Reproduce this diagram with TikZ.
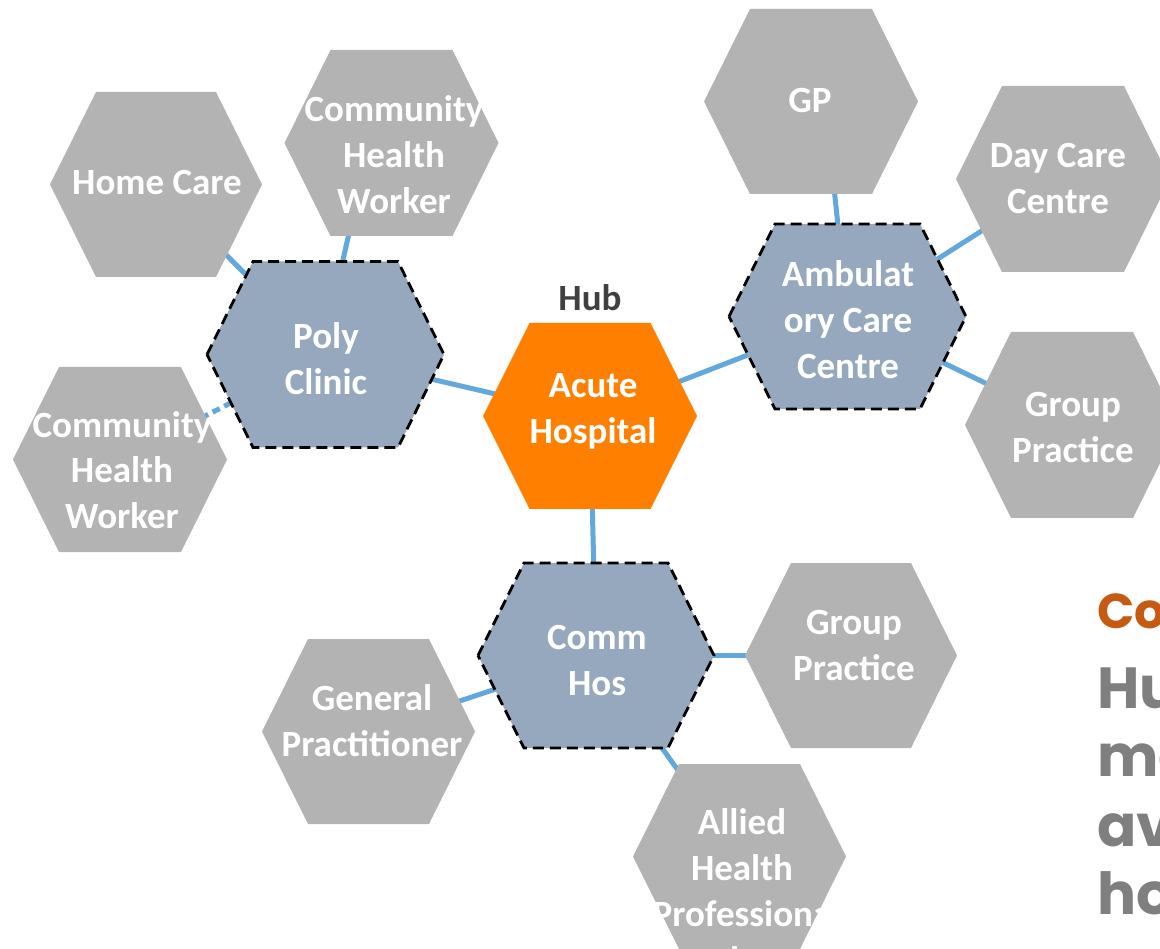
\documentclass[tikz,border=0pt]{standalone}
\usepackage{fontspec}
\setmainfont{Carlito}
\newfontfamily\popfont{Poppins}
\usetikzlibrary{calc}
\definecolor{hexgrey}{RGB}{179,179,179}
\definecolor{hexblue}{RGB}{149,168,190}
\definecolor{hexorange}{RGB}{255,127,0}
\definecolor{connblue}{RGB}{98,168,220}
\definecolor{hubgrey}{RGB}{64,64,64}
\definecolor{titleorange}{RGB}{197,90,17}
\definecolor{bodygrey}{RGB}{127,127,127}
\newcommand{\drawhex}[5]{% style, centre, half width, half height, inset
  \path[#1] ($(#2)+(-#3,0)$) -- ($(#2)+(-#3+#5,-#4)$) -- ($(#2)+(#3-#5,-#4)$)
    -- ($(#2)+(#3,0)$) -- ($(#2)+(#3-#5,#4)$) -- ($(#2)+(-#3+#5,#4)$) -- cycle;}
\begin{document}
\begin{tikzpicture}[x=1pt,y=-1pt,
  conn/.style={draw=connblue,line width=5pt},
  greyhex/.style={fill=hexgrey},
  bluehex/.style={fill=hexblue,draw=black,line width=2.8pt,dash pattern=on 11pt off 6pt},
  orangehex/.style={fill=hexorange},
  lbl/.style={text=white,font=\bfseries\fontsize{37}{46}\selectfont,align=center,inner sep=0pt,anchor=base},
  side/.style={inner sep=0pt,anchor=base west}]
\useasboundingbox (0,0) rectangle (1160,949);
\clip (0,0) rectangle (1160,949);
% centres
\coordinate (home) at (156,184.5);
\coordinate (chwT) at (391.5,143);
\coordinate (chwL) at (120,459.5);
\coordinate (poly) at (325.5,354.5);
\coordinate (acute) at (590,416);
\coordinate (gp) at (811,101.5);
\coordinate (day) at (1063,179);
\coordinate (amb) at (847.5,316.5);
\coordinate (grpR) at (1072,425);
\coordinate (comm) at (596,655.5);
\coordinate (grpB) at (851,655.5);
\coordinate (gen) at (368.5,731.5);
\coordinate (allied) at (739.5,856.5);
% connectors
\draw[conn] (home) -- (poly);
\draw[conn] ($(chwT)+(-22,0)$) -- ($(poly)+(-4,0)$);
\draw[conn,dash pattern=on 8pt off 5pt] (chwL) -- (poly);
\draw[conn] (poly) -- (acute);
\draw[conn] (acute) -- (amb);
\draw[conn] ($(gp)+(14,0)$) -- (amb);
\draw[conn] (day) -- (amb);
\draw[conn] (grpR) -- (amb);
\draw[conn] (acute) -- (comm);
\draw[conn] (comm) -- (grpB);
\draw[conn] (comm) -- (gen);
\draw[conn] (comm) -- (allied);
% hexagons
\drawhex{greyhex}{home}{106}{92.5}{46}
\drawhex{greyhex}{chwT}{107}{93}{46}
\drawhex{greyhex}{chwL}{107}{92.5}{46}
\drawhex{greyhex}{gp}{107}{92.5}{46}
\drawhex{greyhex}{day}{107}{93}{46}
\drawhex{greyhex}{grpR}{107}{93}{46}
\drawhex{greyhex}{grpB}{106}{92.5}{46}
\drawhex{greyhex}{gen}{106.5}{92.5}{46}
\drawhex{greyhex}{allied}{106.5}{92.5}{46}
\drawhex{bluehex}{poly}{118.5}{93}{46}
\drawhex{bluehex}{amb}{118.5}{92.5}{46}
\drawhex{bluehex}{comm}{118}{92.5}{46}
\drawhex{orangehex}{acute}{107}{93}{46.5}
% labels (anchor=base is the baseline of the last line)
\node[lbl] (homeT) at (157,195) {Home Care};
\node[lbl] (chwTT) at (394,214) {Community\\Health\\Worker};
\node[lbl] (chwLT) at (122,529) {Community\\Health\\Worker};
\node[lbl] (polyT) at (326,395) {Poly\\Clinic};
\node[lbl] (acuteT) at (593,444) {Acute\\Hospital};
\node[lbl,text=hubgrey] (hubT) at (590,311) {Hub};
\node[lbl] (gpT) at (810,113) {GP};
\node[lbl] (dayT) at (1058,214) {Day Care\\Centre};
\node[lbl] (ambT) at (848,379) {Ambulat\\ory Care\\Centre};
\node[lbl] (grpRT) at (1073,463) {Group\\Practice};
\node[lbl] (commT) at (597,695) {Comm\\Hos};
\node[lbl] (grpBT) at (854,680) {Group\\Practice};
\node[lbl] (genT) at (372,756) {General\\Practitioner};
\node[lbl] (alliedT) at (742,972) {Allied\\Health\\Professiona\\ls};
% side text
\node[side,text=titleorange,font=\popfont\bfseries\fontsize{49}{58}\selectfont] (co) at (1097,628) {Co};
\node[side,text=bodygrey,font=\popfont\bfseries\fontsize{58}{69}\selectfont] (hu) at (1097,708) {Hu};
\node[side,text=bodygrey,font=\popfont\bfseries\fontsize{58}{69}\selectfont] (ma) at (1097,776) {ma};
\node[side,text=bodygrey,font=\popfont\bfseries\fontsize{58}{69}\selectfont] (av) at (1097,846) {av};
\node[side,text=bodygrey,font=\popfont\bfseries\fontsize{58}{69}\selectfont] (ho) at (1097,914) {ho};
\end{tikzpicture}
\end{document}
